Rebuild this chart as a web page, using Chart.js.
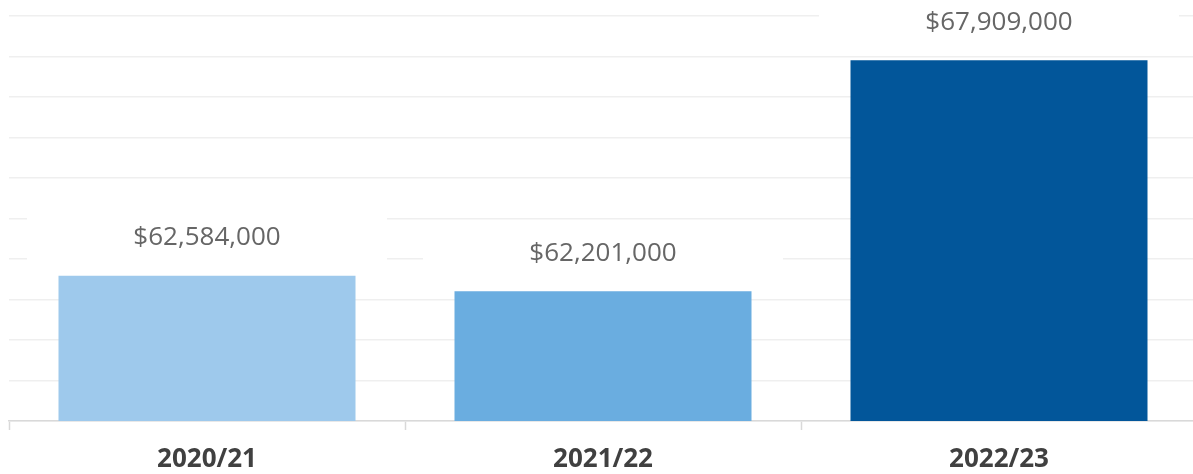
<!DOCTYPE html>
<html>
<head>
<meta charset="utf-8">
<script src="https://cdn.jsdelivr.net/npm/chart.js@4/dist/chart.umd.min.js"></script>
<style>
    html, body { margin: 0; padding: 0; background: #fff; overflow: hidden; }
    #wrap { position: absolute; left: 0; top: 0; width: 1200px; height: 474px; }
</style>
</head>
<body>
<div id="wrap"><canvas id="fundingChart"></canvas></div>
<script>
// data
var years = ['2020/21', '2021/22', '2022/23'];
var funding = [62584000, 62201000, 67909000];
var barColors = ['#9ec9ec', '#6aade0', '#02569a'];
var axisMin = 59000000;
var axisMax = 69000000;
var axisStep = 1000000;

// value labels with a white box behind them (covers the gridlines)
var valueLabels = {
    id: 'valueLabels',
    afterDatasetsDraw: function (chart) {
        var ctx = chart.ctx;
        var meta = chart.getDatasetMeta(0);
        ctx.save();
        ctx.font = '26px "Open Sans"';
        ctx.textAlign = 'center';
        ctx.textBaseline = 'middle';
        meta.data.forEach(function (bar, i) {
            var cy = bar.y - 38;
            ctx.fillStyle = '#ffffff';
            ctx.fillRect(bar.x - 180, cy - 27, 360, 54);
            ctx.fillStyle = '#666666';
            ctx.fillText('$' + funding[i].toLocaleString('en-US'), bar.x, cy);
        });
        ctx.restore();
    }
};

document.addEventListener("DOMContentLoaded", function () {
    var ctx = document.getElementById('fundingChart').getContext('2d');
    new Chart(ctx, {
        type: 'bar',
        data: {
            labels: years,
            datasets: [{
                label: 'Funding',
                data: funding,
                backgroundColor: barColors,
                categoryPercentage: 1,
                barPercentage: 0.75
            }]
        },
        options: {
            responsive: true,
            maintainAspectRatio: false,
            animation: false,
            devicePixelRatio: 1,
            layout: { padding: { left: 9, right: 3, top: 16, bottom: 0 } },
            plugins: {
                legend: { display: false },
                tooltip: { enabled: false }
            },
            scales: {
                x: {
                    afterFit: function (s) { s.height = 53; },
                    grid: {
                        offset: true,
                        drawOnChartArea: false,
                        drawTicks: true,
                        tickLength: 9,
                        tickColor: '#d9d9d9',
                        tickWidth: 1.5
                    },
                    border: { color: '#d9d9d9', width: 1.5 },
                    ticks: {
                        padding: 14,
                        color: '#404040',
                        font: { family: '"Open Sans"', size: 26, weight: 'bold' }
                    }
                },
                y: {
                    min: axisMin,
                    max: axisMax,
                    afterFit: function (s) { s.width = 0; },
                    ticks: { display: false, stepSize: axisStep },
                    border: { display: false },
                    grid: { color: '#efefef', lineWidth: 1.5, drawTicks: false }
                }
            }
        },
        plugins: [valueLabels]
    });
});
</script>
</body>
</html>
